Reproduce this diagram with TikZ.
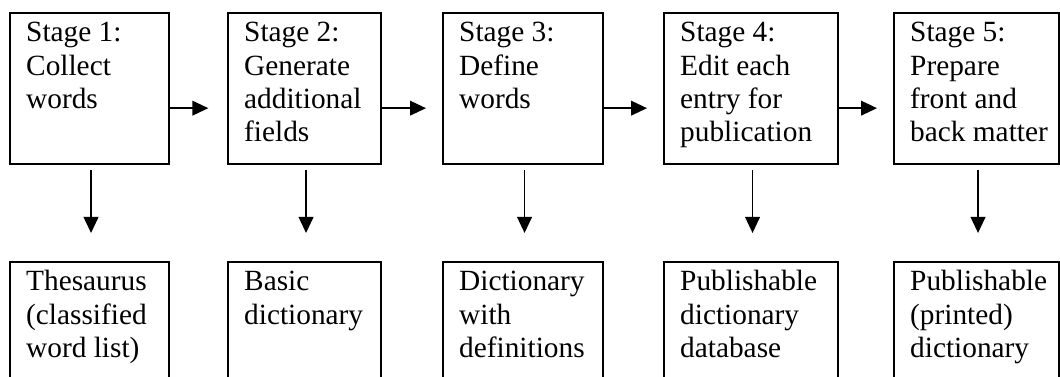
\documentclass[tikz,border=0pt]{standalone}
\usepackage{fontspec}
\setmainfont{Liberation Serif}
\usetikzlibrary{arrows.meta}
\newcommand\bxt[2]{\parbox[t]{#1}{\raggedright #2}}
\begin{document}
\begin{tikzpicture}[x=0.75pt,y=-0.75pt,
  stagebox/.style={draw, line width=1.8pt, anchor=north west, inner xsep=12pt, inner ysep=0pt,
    text height=21.4pt, text depth=91.85pt, font=\fontsize{22}{25}\selectfont},
  arr/.style={line width=1.3pt, -{Triangle[length=12pt,width=11pt]}},
  harr/.style={arr, shorten >=12pt},
  varr/.style={arr, shorten <=3.75pt, shorten >=21pt}]
\useasboundingbox (0,0) rectangle (1060,377);
\clip (0,0) rectangle (1060,377);
% top row
\node[stagebox] (s1) at (9,12)   {\bxt{95.25pt}{Stage 1:\\Collect\\words}};
\node[stagebox] (s2) at (227,12) {\bxt{90.75pt}{Stage 2:\\Generate\\additional\\fields}};
\node[stagebox] (s3) at (442,12) {\bxt{96pt}{Stage 3:\\Define\\words}};
\node[stagebox] (s4) at (663,12) {\bxt{106.5pt}{Stage 4:\\Edit each\\entry for\\publication}};
\node[stagebox] (s5) at (893,12) {\bxt{99.75pt}{Stage 5:\\Prepare\\front and\\\mbox{back matter}}};
% bottom row
\node[stagebox] (r1) at (9,261)   {\bxt{95.25pt}{Thesaurus\\(classified\\word list)}};
\node[stagebox] (r2) at (227,261) {\bxt{90.75pt}{Basic\\dictionary}};
\node[stagebox] (r3) at (442,261) {\bxt{96pt}{Dictionary\\with\\definitions}};
\node[stagebox] (r4) at (663,261) {\bxt{106.5pt}{Publishable\\dictionary\\database}};
\node[stagebox] (r5) at (893,261) {\bxt{99.75pt}{Publishable\\(printed)\\dictionary}};
% horizontal arrows
\draw[harr, shorten >=14pt] ([yshift=-14.6pt]s1.east) -- ([yshift=-14.6pt]s2.west);
\foreach \a/\b in {s2/s3,s3/s4,s4/s5}
  \draw[harr] ([yshift=-14.6pt]\a.east) -- ([yshift=-14.6pt]\b.west);
% vertical arrows
\foreach \i in {1,...,5}
  \draw[varr] ([xshift=1pt]s\i.south) -- ([xshift=1pt]r\i.north);
\end{tikzpicture}
\end{document}
